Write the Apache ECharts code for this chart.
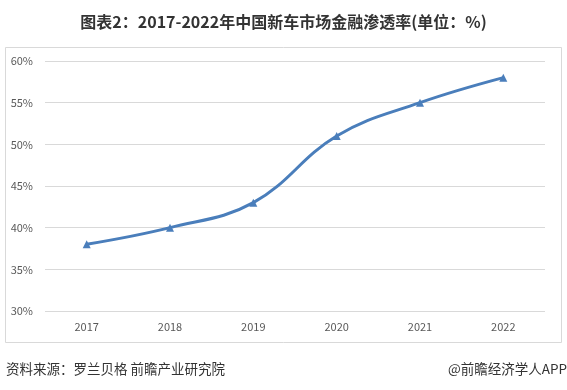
<!DOCTYPE html>
<html><head><meta charset="utf-8">
<script src="https://cdn.jsdelivr.net/npm/echarts@6/dist/echarts.min.js"></script>
<style>html,body{margin:0;padding:0;background:#fff;}#c{width:567px;height:390px;}</style>
</head><body><div id="c"></div>
<script>
const categories = ['2017','2018','2019','2020','2021','2022'];
const penetration = [38, 40, 43, 51, 55, 58];
const yTicks = [30, 35, 40, 45, 50, 55, 60];
const titleText = '图表2：2017-2022年中国新车市场金融渗透率(单位：%)';
const sourceText = '资料来源：罗兰贝格 前瞻产业研究院';
const brandText = '@前瞻经济学人APP';

const chart = echarts.init(document.getElementById('c'), null, {renderer:'canvas'});
const font = '"Microsoft YaHei","Noto Sans CJK SC",sans-serif';
chart.setOption({
  backgroundColor:'#fff',
  animation:false,
  title:{text:titleText,left:'center',top:9,textStyle:{fontSize:16,fontWeight:'bold',color:'#333',fontFamily:font}},
  graphic:[
    {type:'rect',shape:{x:5.5,y:47.5,width:556,height:295},style:{fill:'none',stroke:'#d9d9d9',lineWidth:1}},
    {type:'text',left:6,top:362,style:{text:sourceText,fontSize:13.5,fill:'#333',fontFamily:font}},
    {type:'text',right:0,top:362,style:{text:brandText,fontSize:13.5,fill:'#333',fontFamily:font}}
  ],
  grid:{left:45,right:22,top:61,bottom:79},
  xAxis:{type:'category',data:categories,boundaryGap:true,
    axisLine:{show:false},axisTick:{show:false},
    axisLabel:{color:'#595959',fontSize:11,margin:10,fontFamily:font}},
  yAxis:{type:'value',min:yTicks[0],max:yTicks[yTicks.length-1],interval:5,
    axisLabel:{formatter:'{value}%',color:'#595959',fontSize:11,margin:12,fontFamily:font},
    splitLine:{lineStyle:{color:'#d9d9d9',width:1}},
    axisLine:{show:false},axisTick:{show:false}},
  series:[{type:'line',data:penetration,smooth:0.4,symbol:'triangle',symbolSize:8,
    lineStyle:{color:'#4a7ebb',width:3},itemStyle:{color:'#4a7ebb'}}]
});
</script></body></html>
